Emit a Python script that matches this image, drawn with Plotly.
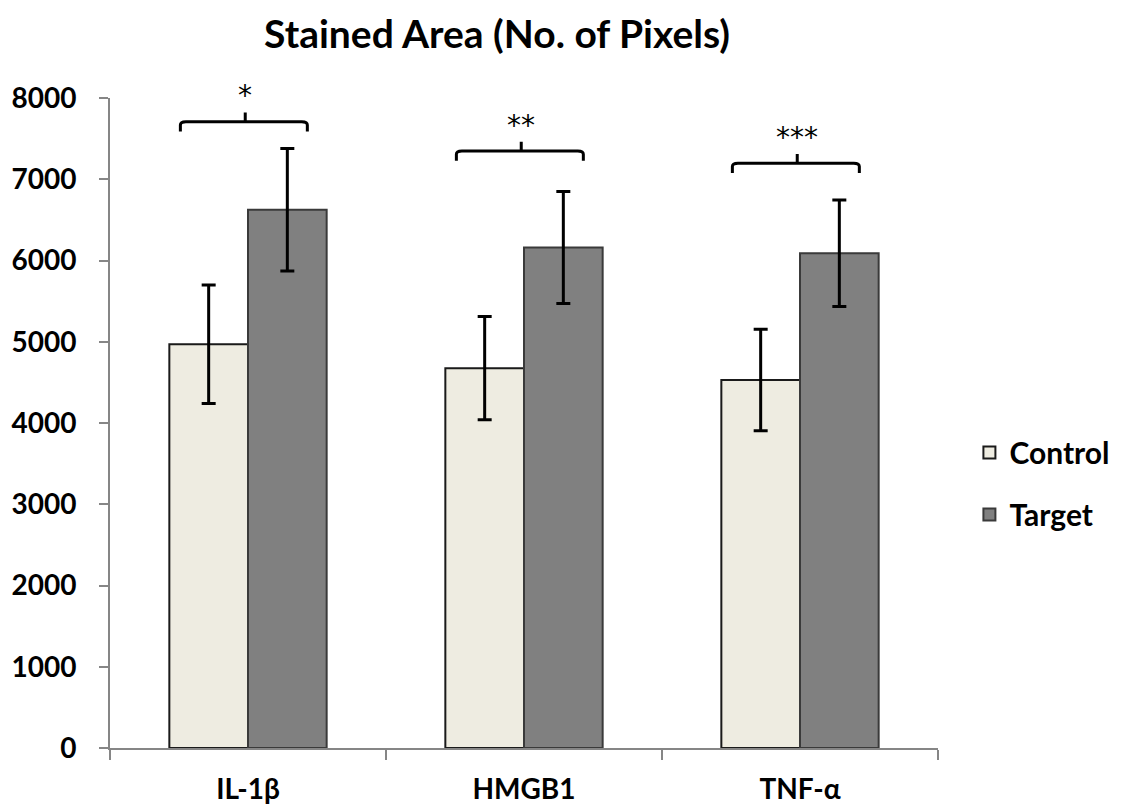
import plotly.graph_objects as go

categories = ["IL-1β", "HMGB1", "TNF-α"]
control = [4970, 4675, 4530]
control_err = [730, 635, 625]
target = [6625, 6160, 6090]
target_err = [755, 690, 655]
stars = ["*", "**", "***"]
bracket_y = [7708, 7348, 7196]
y_ticks = [0, 1000, 2000, 3000, 4000, 5000, 6000, 7000, 8000]

FONT = "Lato"

fig = go.Figure()
fig.add_trace(go.Bar(
    name="Control", x=categories, y=control, legendgroup="c",
    marker=dict(color="#EEECE1", line=dict(color="#1a1a1a", width=2)),
    error_y=dict(type="data", array=control_err, color="black", thickness=3, width=7),
))
fig.add_trace(go.Bar(
    name="Target", x=categories, y=target, legendgroup="t",
    marker=dict(color="#808080", line=dict(color="#3a3a3a", width=2)),
    error_y=dict(type="data", array=target_err, color="black", thickness=3, width=7),
))

shapes = []
annotations = []
for i, (s, yh) in enumerate(zip(stars, bracket_y)):
    x0 = i - 0.245
    x1 = i + 0.215
    xc = i - 0.01
    d = 120
    r = 0.02
    path = (f"M {x0},{yh - d} L {x0},{yh - 40} Q {x0},{yh} {x0 + r},{yh} "
            f"L {x1 - r},{yh} Q {x1},{yh} {x1},{yh - 40} L {x1},{yh - d} "
            f"M {xc},{yh} L {xc},{yh + d - 5}")
    shapes.append(dict(type="path", path=path, xref="x", yref="y",
                       line=dict(color="black", width=3)))
    annotations.append(dict(x=xc, y=yh + d - 30, xref="x", yref="y", text=s,
                            showarrow=False, yanchor="bottom",
                            font=dict(family="DejaVu Sans", size=28, color="black")))

fig.update_layout(
    width=1122, height=810,
    margin=dict(l=110, r=184, t=98, b=62),
    paper_bgcolor="white", plot_bgcolor="white",
    barmode="group", bargap=0.43, bargroupgap=0,
    title=dict(text="<b>Stained Area (No. of Pixels)</b>", x=0.443, xanchor="center",
               y=0.958, yanchor="middle",
               font=dict(family=FONT, size=39, color="black")),
    font=dict(family=FONT, color="black"),
    showlegend=True,
    legend=dict(xref="container", yref="container", x=0.864, y=0.403,
                xanchor="left", yanchor="middle",
                font=dict(family=FONT, size=30, color="black", weight="bold"),
                tracegroupgap=20, itemwidth=30),
    shapes=shapes,
    annotations=annotations,
)
fig.update_xaxes(
    automargin=False,
    showline=True, linecolor="#868686", linewidth=2,
    ticks="outside", tickson="boundaries", ticklen=10, tickcolor="#868686", tickwidth=2,
    tickfont=dict(family=FONT, size=28, color="black", weight="bold"),
    ticklabelstandoff=15,
    showgrid=False, zeroline=False,
)
fig.update_yaxes(
    automargin=False,
    range=[0, 8000], tickvals=y_ticks,
    showline=True, linecolor="#868686", linewidth=2,
    ticks="outside", ticklen=9, tickcolor="#868686", tickwidth=2,
    tickfont=dict(family=FONT, size=28, color="black", weight="bold"),
    ticklabelstandoff=17,
    showgrid=False, zeroline=False,
)

fig.write_html("out.html")
